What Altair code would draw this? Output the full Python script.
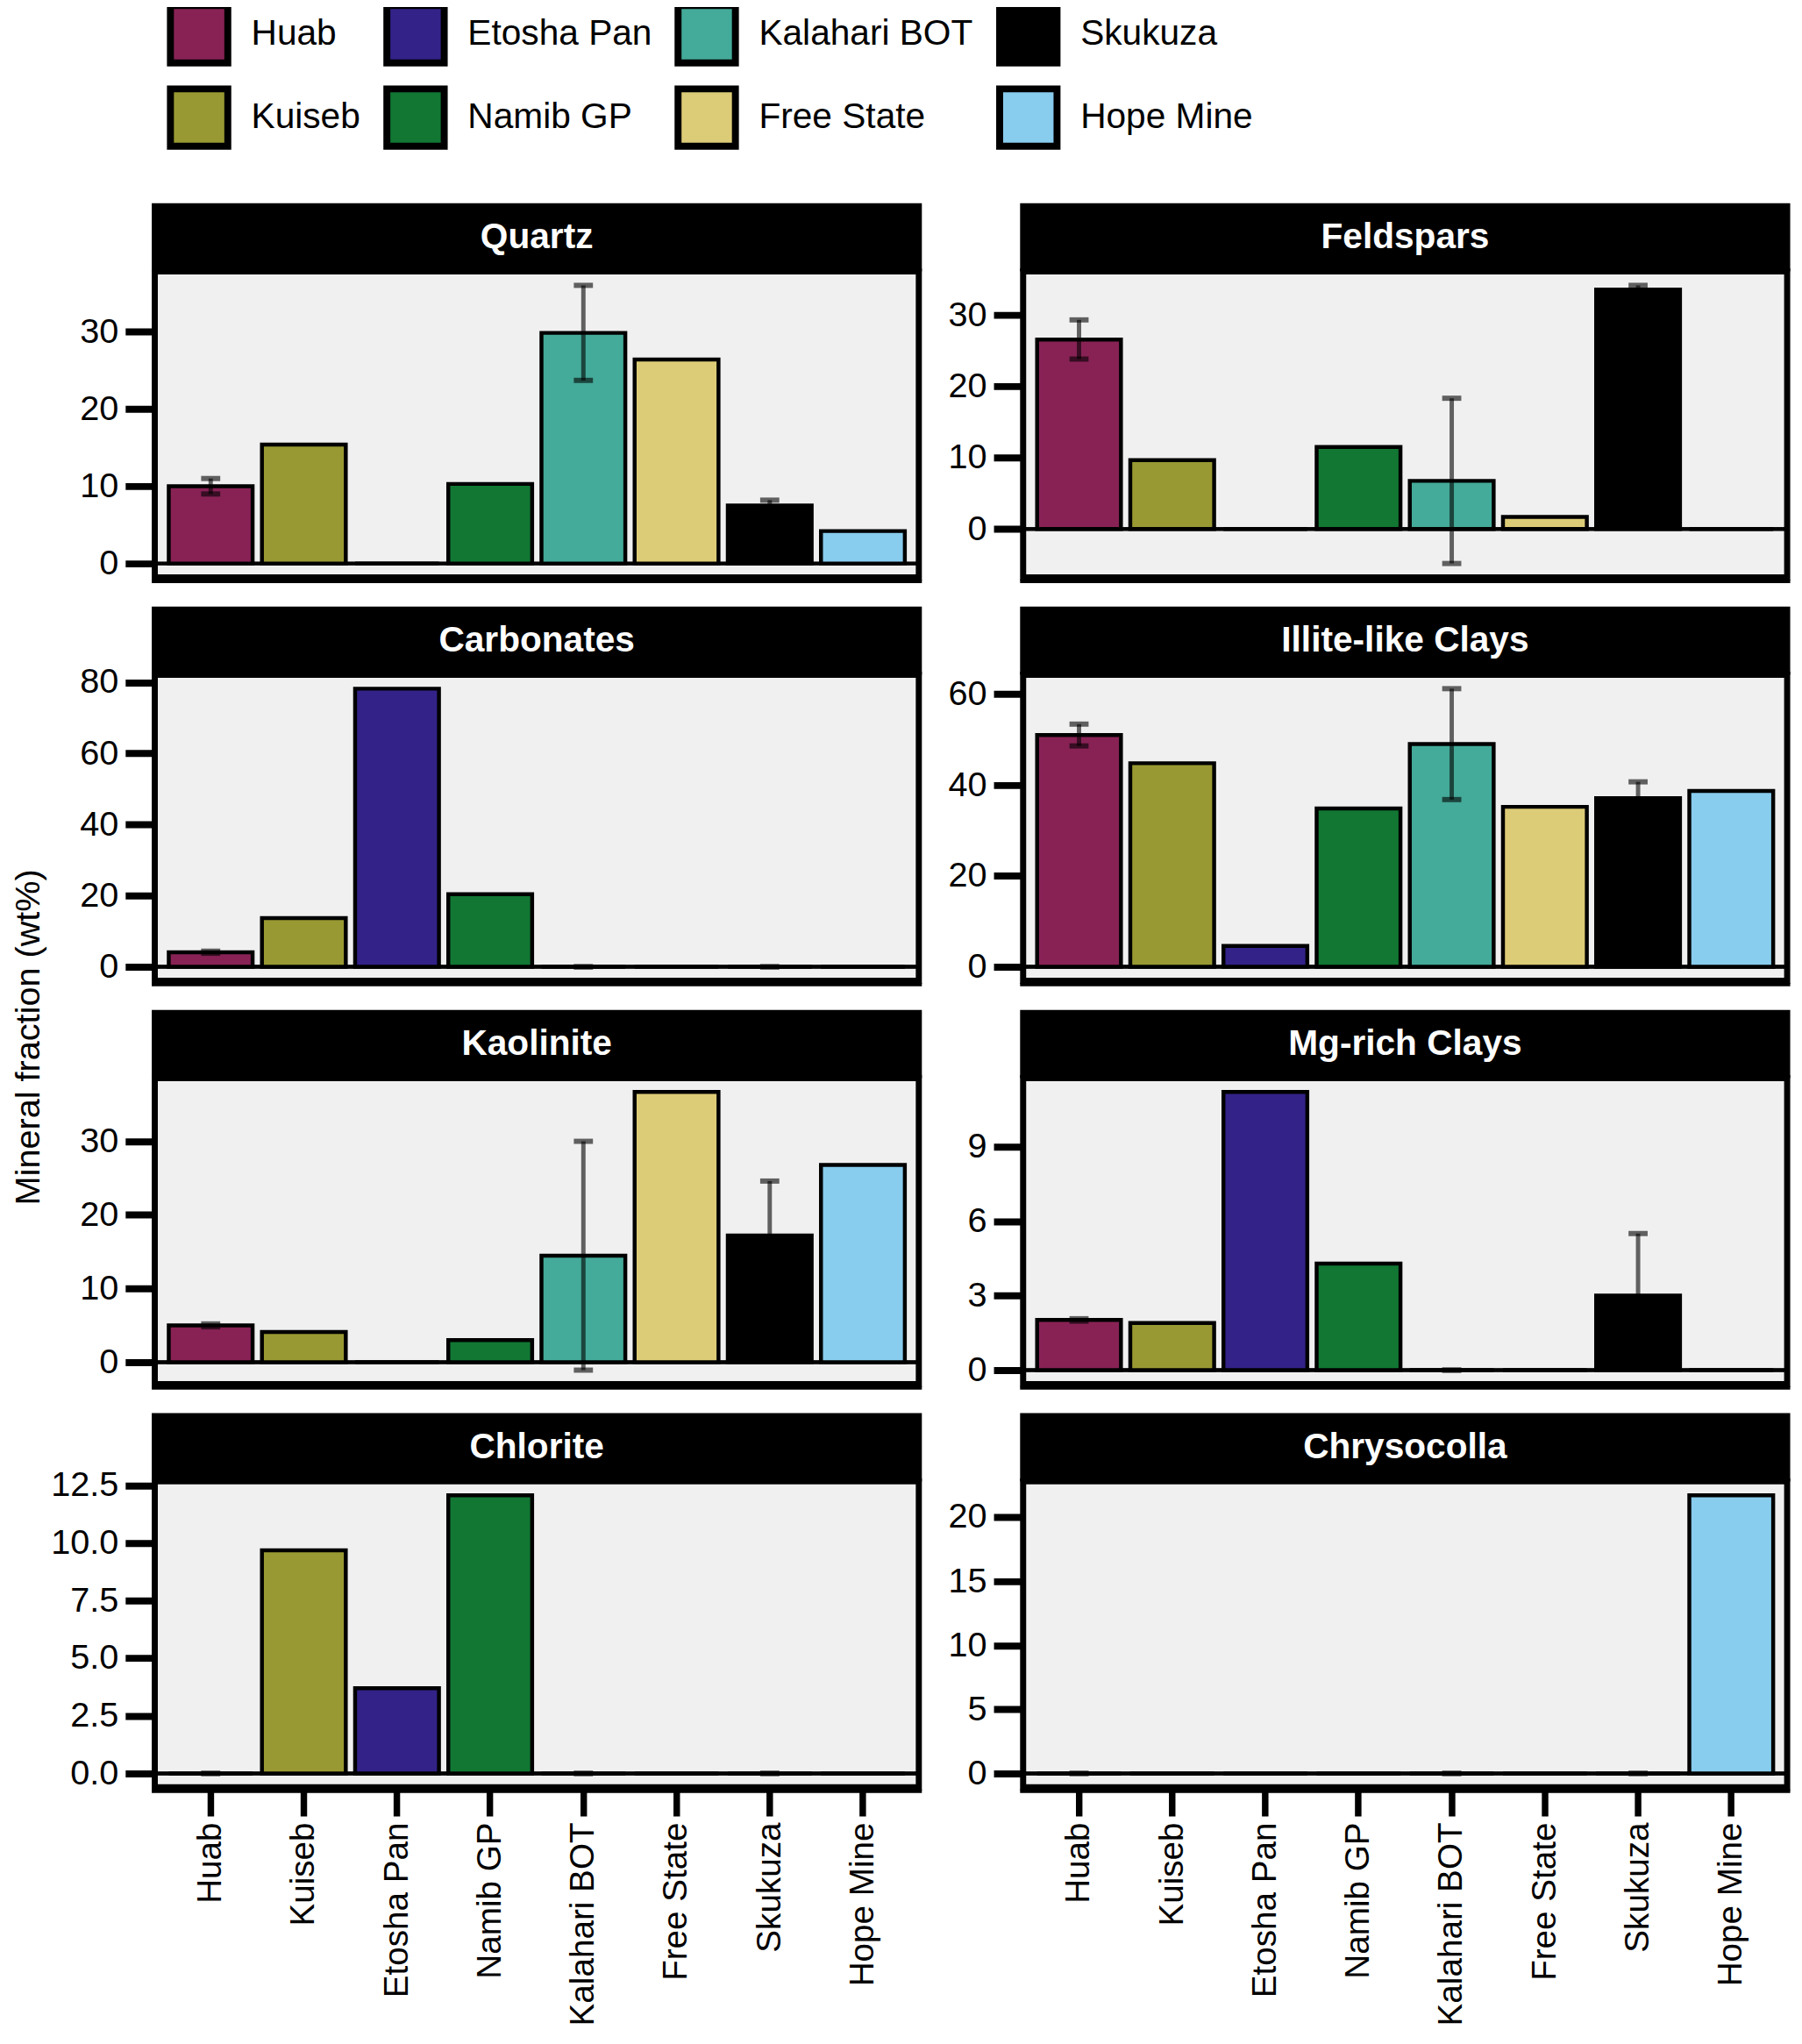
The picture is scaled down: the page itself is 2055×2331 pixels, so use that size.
import altair as alt
import pandas as pd

# ---------------- data ----------------
sites = ["Huab", "Kuiseb", "Etosha Pan", "Namib GP", "Kalahari BOT", "Free State", "Skukuza", "Hope Mine"]
site_colors = ["#882255", "#999933", "#332288", "#117733", "#44AA99", "#DDCC77", "#000000", "#88CCEE"]

minerals = ["Quartz", "Feldspars", "Carbonates", "Illite-like Clays",
            "Kaolinite", "Mg-rich Clays", "Chlorite", "Chrysocolla"]

# mean wt% per site (order of `sites`)
quartz = [10.0, 15.4, 0.0, 10.3, 29.85, 26.4, 7.5, 4.2]
feldspars = [26.6, 9.65, 0.0, 11.5, 6.75, 1.7, 33.6, 0.0]
carbonates = [4.1, 13.7, 78.2, 20.4, 0.0, 0.0, 0.0, 0.0]
illite = [51.0, 44.8, 4.6, 34.85, 49.0, 35.2, 37.1, 38.7]
kaolinite = [5.0, 4.1, 0.0, 3.0, 14.46, 36.7, 17.2, 26.8]
mg_clays = [2.02, 1.9, 11.2, 4.29, 0.0, 0.0, 3.0, 0.0]
chlorite = [0.0, 9.68, 3.7, 12.07, 0.0, 0.0, 0.0, 0.0]
chrysocolla = [0.0, 0.0, 0.0, 0.0, 0.0, 0.0, 0.0, 21.7]
mineral_values = [quartz, feldspars, carbonates, illite, kaolinite, mg_clays, chlorite, chrysocolla]

# standard deviations for the sites with replicates (order of `minerals`)
err_sites = ["Huab", "Kalahari BOT", "Skukuza"]
err_huab = [1.0, 2.75, 0.3, 2.4, 0.2, 0.05, 0.0, 0.0]
err_kalahari = [6.15, 11.6, 0.0, 12.2, 15.54, 0.0, 0.0, 0.0]
err_skukuza = [0.7, 0.6, 0.0, 3.6, 7.4, 2.5, 0.0, 0.0]
err_values = [err_huab, err_kalahari, err_skukuza]

# axis ticks per panel
y_ticks = [[0, 10, 20, 30], [0, 10, 20, 30], [0, 20, 40, 60, 80], [0, 20, 40, 60],
           [0, 10, 20, 30], [0, 3, 6, 9], [0, 2.5, 5, 7.5, 10, 12.5], [0, 5, 10, 15, 20]]
y_formats = ["d", "d", "d", "d", "d", "d", ".1f", "d"]
y_title = "Mineral fraction (wt%)"

# ---------------- tables ----------------
rows = []
for m, vals in zip(minerals, mineral_values):
    for s, v in zip(sites, vals):
        rows.append({"mineral": m, "site": s, "value": v})
df = pd.DataFrame(rows)

erows = []
for s, errs in zip(err_sites, err_values):
    for m, e in zip(minerals, errs):
        v = df[(df.mineral == m) & (df.site == s)].value.iloc[0]
        erows.append({"mineral": m, "site": s, "lo": v - e, "hi": v + e})
edf = pd.DataFrame(erows)
cdf = pd.concat([
    edf[["mineral", "site", "lo"]].rename(columns={"lo": "yv"}),
    edf[["mineral", "site", "hi"]].rename(columns={"hi": "yv"}),
])

# ---------------- style ----------------
FONT = "Liberation Sans"
W = 879
H = 352
BORDER = 7
STRIP = 75 + BORDER / 2
EXT_LEFT = 121
EXT_RIGHT = 97


def cell(i, left, bottom):
    m = minerals[i]
    d = df[df.mineral == m]
    e = edf[edf.mineral == m]
    c = cdf[cdf.mineral == m]
    lo = min(0.0, float(e.lo.min()) if len(e) else 0.0, float(d.value.min()))
    hi = max(float(d.value.max()), float(e.hi.max()) if len(e) else 0.0)
    pad = 0.05 * (hi - lo)
    yscale = alt.Scale(domain=[lo - pad, hi + pad], nice=False, zero=False)
    ext = EXT_LEFT if left else EXT_RIGHT
    yaxis = alt.Axis(values=y_ticks[i], format=y_formats[i], minExtent=ext, maxExtent=ext,
                     tickSize=34, tickWidth=8, tickColor="black", labelPadding=8,
                     labelFontSize=40, labelFont=FONT, labelColor="black",
                     domain=False, grid=False)
    xscale = alt.Scale(domain=sites, paddingInner=0.1, paddingOuter=0.15)
    if bottom:
        xaxis = alt.Axis(labelAngle=270, labelAlign="right", labelBaseline="middle",
                         tickSize=33, tickWidth=7.5, tickColor="black", labelPadding=7,
                         labelFontSize=39, labelFont=FONT, labelColor="black",
                         labelLimit=500, domain=False, grid=False)
        xenc = alt.X("site:N", sort=sites, scale=xscale, axis=xaxis, title=None)
    else:
        xenc = alt.X("site:N", sort=sites, scale=xscale, axis=None, title=None)

    strip_df = pd.DataFrame({"mineral": [m]})
    strip = alt.Chart(strip_df).mark_rect(color="black").encode(
        x=alt.value(-BORDER / 2), x2=alt.value(W + BORDER / 2),
        y=alt.value(-STRIP), y2=alt.value(0))
    strip_text = alt.Chart(strip_df).mark_text(
        color="white", fontSize=41, fontWeight="bold", font=FONT,
        align="center", baseline="middle").encode(
        text="mineral:N", x=alt.value(W / 2), y=alt.value(-39))
    # thicker bottom edge of the panel (axis line over the border)
    base_line = alt.Chart(strip_df).mark_rule(color="black", strokeWidth=4).encode(
        x=alt.value(-BORDER / 2), x2=alt.value(W + BORDER / 2),
        y=alt.value(H + BORDER / 2 + 1))

    zero = alt.Chart(d).mark_rule(color="black", opacity=0.4, strokeWidth=4).encode(
        y=alt.Y(datum=0, scale=yscale, axis=yaxis, title=None))
    bars = alt.Chart(d).mark_bar(stroke="black", strokeWidth=4.5).encode(
        x=xenc,
        y=alt.Y("value:Q", scale=yscale, axis=yaxis, title=None),
        y2=alt.Y2(datum=0),
        fill=alt.Fill("site:N", scale=alt.Scale(domain=sites, range=site_colors), title=None,
                      legend=alt.Legend(orient="none", legendX=184, legendY=-310, columns=4,
                                        symbolType="square",
                                        symbolSize=4356, symbolStrokeWidth=8,
                                        symbolStrokeColor="black", symbolOpacity=1,
                                        labelFontSize=41, labelFont=FONT, labelColor="black",
                                        labelLimit=500, labelOffset=23, columnPadding=14,
                                        rowPadding=-2, padding=0)),
    )
    rule = alt.Chart(e).mark_rule(color="black", opacity=0.6, strokeWidth=5).encode(
        x=xenc,
        y=alt.Y("lo:Q", scale=yscale, axis=yaxis, title=None),
        y2="hi:Q")
    caps = alt.Chart(c).mark_tick(color="black", opacity=0.6, thickness=6, size=22).encode(
        x=xenc,
        y=alt.Y("yv:Q", scale=yscale, axis=yaxis, title=None))
    return alt.layer(strip, strip_text, base_line, zero, bars, rule, caps).properties(width=W, height=H)


cells = [cell(i, i % 2 == 0, i >= 6) for i in range(8)]
grid_rows = [alt.hconcat(cells[2 * r], cells[2 * r + 1], spacing=10) for r in range(4)]
grid = alt.vconcat(*grid_rows, spacing=20)

title_chart = alt.Chart(pd.DataFrame({"t": [y_title]})).mark_text(
    angle=270, fontSize=40, font=FONT, color="black", align="center", baseline="middle").encode(
    text="t:N", x=alt.value(25), y=alt.value(881)).properties(
    width=45, height=1800,
    view=alt.ViewBackground(stroke="transparent", strokeWidth=0, fill="transparent"))

chart = alt.hconcat(title_chart, grid, spacing=0).properties(
    padding={"top": -16, "left": 0, "right": 0, "bottom": 0}
).configure_view(
    fill="#F0F0F0", stroke="black", strokeWidth=BORDER
).configure_concat(spacing=10)

chart.save("out.html", embed_options={"renderer": "svg", "actions": False})
